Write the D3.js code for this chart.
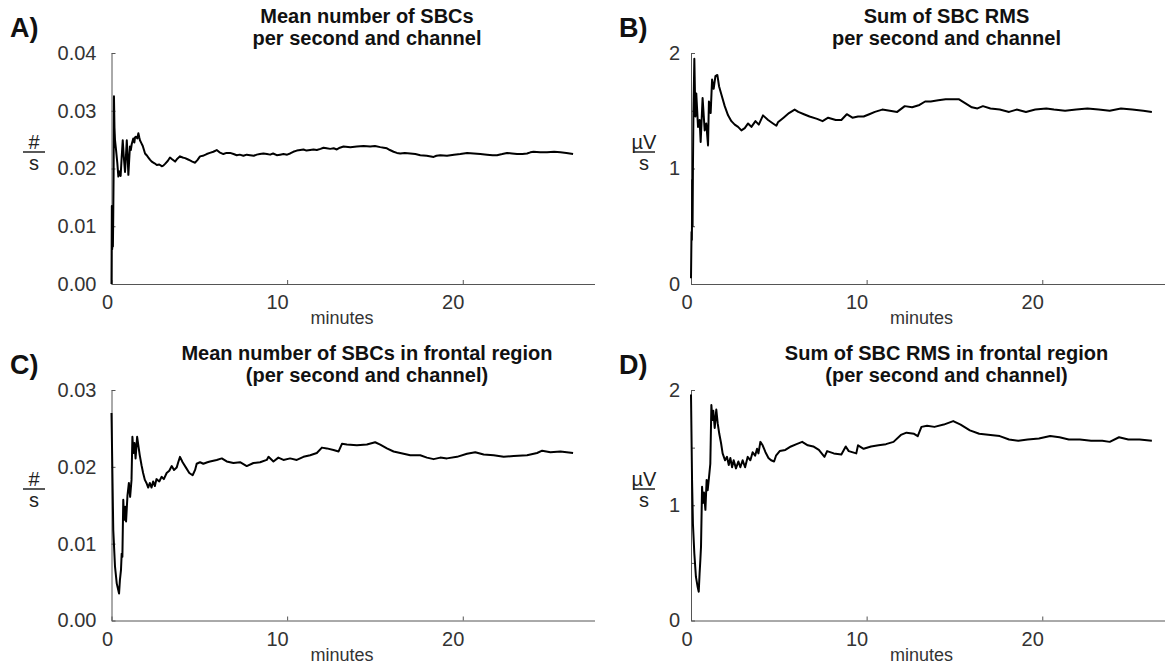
<!DOCTYPE html>
<head>
    <meta charset="utf-8">
    <title>SBC running averages</title>
    <style>
        body { margin: 0; background: #fff; }
        text { font-family: "Liberation Sans", Arial, sans-serif; }
        .tick text { font-size: 20px; fill: #333; }
        .title { font-size: 20px; font-weight: bold; fill: #111; }
        .letter { font-size: 27px; font-weight: bold; fill: #111; }
        .xlabel { font-size: 18px; fill: #333; }
        .unit { font-size: 20px; fill: #222; }
    </style>
    <script src="https://d3js.org/d3.v7.min.js"></script>
</head>
<body>
    <script>
        // [minutes, value]
        var meanAll = [[0,0],[0.02,0.0135],[0.04,0.006],[0.06,0.013],[0.08,0.0065],[0.1,0.012],[0.12,0.019],[0.14,0.0325],[0.17,0.027],[0.2,0.0249],[0.26,0.0232],[0.33,0.021],[0.39,0.0186],[0.45,0.0195],[0.52,0.0187],[0.58,0.022],[0.64,0.0249],[0.7,0.022],[0.77,0.0194],[0.82,0.022],[0.87,0.0249],[0.92,0.022],[0.96,0.0189],[1.05,0.0238],[1.1,0.0232],[1.15,0.0242],[1.24,0.0252],[1.3,0.0245],[1.34,0.0254],[1.4,0.0255],[1.47,0.0252],[1.53,0.0261],[1.58,0.0254],[1.62,0.0249],[1.7,0.0244],[1.78,0.0239],[1.85,0.0232],[1.91,0.0226],[2.0,0.0223],[2.1,0.0219],[2.2,0.0215],[2.29,0.0212],[2.45,0.0209],[2.58,0.0206],[2.72,0.0207],[2.86,0.0204],[2.95,0.0205],[3.05,0.0208],[3.2,0.0213],[3.33,0.0219],[3.45,0.0216],[3.62,0.0212],[3.75,0.0217],[3.9,0.0221],[4.05,0.0219],[4.19,0.0218],[4.33,0.0216],[4.47,0.0214],[4.6,0.0212],[4.76,0.021],[4.9,0.0215],[5.04,0.0221],[5.2,0.0222],[5.42,0.0225],[5.6,0.0227],[5.8,0.0229],[5.99,0.0232],[6.15,0.0228],[6.37,0.0225],[6.55,0.0227],[6.75,0.0227],[6.95,0.0225],[7.13,0.0223],[7.3,0.0224],[7.51,0.0222],[7.7,0.0224],[7.89,0.0223],[8.1,0.0222],[8.27,0.0224],[8.45,0.0225],[8.65,0.0226],[8.85,0.0225],[9.03,0.0224],[9.2,0.0226],[9.41,0.0223],[9.6,0.0224],[9.79,0.0225],[10.0,0.0224],[10.17,0.0226],[10.35,0.0229],[10.55,0.0231],[10.75,0.0232],[10.93,0.0233],[11.1,0.0231],[11.31,0.0232],[11.5,0.0233],[11.69,0.0232],[11.9,0.0234],[12.07,0.0236],[12.25,0.0235],[12.45,0.0234],[12.65,0.0235],[12.83,0.0233],[13.0,0.0236],[13.21,0.0238],[13.6,0.0237],[13.97,0.0238],[14.35,0.0239],[14.73,0.0238],[15.0,0.0239],[15.3,0.0237],[15.5,0.0236],[15.68,0.0235],[15.85,0.0232],[16.06,0.0229],[16.25,0.0227],[16.44,0.0226],[16.7,0.0227],[17.01,0.0226],[17.3,0.0225],[17.58,0.0223],[17.95,0.0222],[18.34,0.022],[18.5,0.0222],[18.72,0.0223],[19.1,0.0222],[19.5,0.0224],[19.86,0.0225],[20.25,0.0227],[20.62,0.0226],[21.0,0.0225],[21.38,0.0224],[21.7,0.0223],[21.95,0.0223],[22.25,0.0225],[22.52,0.0227],[22.8,0.0226],[23.09,0.0225],[23.4,0.0225],[23.66,0.0226],[23.85,0.0228],[24.03,0.0229],[24.4,0.0228],[24.8,0.0228],[25.2,0.0229],[25.56,0.0228],[25.9,0.0227],[26.28,0.0225]];

        var sumAll = [[0,0.05],[0.03,0.45],[0.05,0.38],[0.07,0.9],[0.09,0.5],[0.11,1.0],[0.14,1.5],[0.19,1.95],[0.25,1.45],[0.3,1.65],[0.4,1.36],[0.49,1.42],[0.55,1.23],[0.66,1.61],[0.78,1.33],[0.87,1.39],[0.97,1.2],[1.02,1.58],[1.12,1.48],[1.2,1.77],[1.29,1.69],[1.39,1.8],[1.5,1.81],[1.6,1.71],[1.73,1.64],[1.92,1.54],[2.11,1.46],[2.3,1.41],[2.49,1.38],[2.68,1.36],[2.87,1.33],[3.06,1.35],[3.25,1.39],[3.44,1.36],[3.67,1.41],[3.86,1.38],[4.1,1.46],[4.39,1.42],[4.67,1.39],[4.86,1.37],[4.95,1.4],[5.27,1.44],[5.58,1.48],[5.9,1.51],[6.11,1.49],[6.43,1.47],[6.75,1.45],[7.18,1.43],[7.49,1.41],[7.81,1.44],[8.24,1.42],[8.56,1.42],[8.87,1.47],[9.19,1.44],[9.51,1.45],[9.83,1.45],[10.15,1.47],[10.47,1.49],[10.89,1.51],[11.32,1.5],[11.74,1.49],[12.17,1.54],[12.59,1.53],[13.01,1.55],[13.33,1.58],[13.65,1.58],[14.08,1.59],[14.5,1.6],[14.93,1.6],[15.24,1.6],[15.56,1.57],[15.99,1.53],[16.31,1.52],[16.62,1.54],[17.05,1.52],[17.58,1.51],[18.11,1.49],[18.54,1.51],[19.07,1.49],[19.6,1.51],[20.23,1.52],[20.66,1.51],[21.3,1.5],[21.93,1.51],[22.57,1.52],[23.21,1.51],[23.84,1.5],[24.48,1.52],[25.12,1.51],[25.75,1.5],[26.24,1.49]];

        var meanFrontal = [[0,0.027],[0.1,0.0118],[0.2,0.007],[0.3,0.0048],[0.43,0.0035],[0.48,0.0053],[0.54,0.0066],[0.58,0.0087],[0.62,0.0083],[0.67,0.0157],[0.72,0.0131],[0.78,0.0148],[0.83,0.0129],[0.91,0.0163],[0.99,0.0179],[1.06,0.0161],[1.14,0.0183],[1.19,0.0239],[1.25,0.0218],[1.31,0.0231],[1.37,0.0211],[1.46,0.0239],[1.54,0.0226],[1.61,0.0215],[1.71,0.0202],[1.8,0.0192],[1.9,0.0183],[1.99,0.0179],[2.09,0.0173],[2.18,0.0179],[2.28,0.0173],[2.37,0.0181],[2.47,0.0175],[2.56,0.0184],[2.72,0.0181],[2.85,0.0187],[2.98,0.0184],[3.14,0.0192],[3.29,0.0195],[3.43,0.0201],[3.56,0.0196],[3.71,0.0199],[3.8,0.0206],[3.9,0.0213],[4.05,0.0206],[4.24,0.0199],[4.43,0.0192],[4.62,0.0189],[4.76,0.0196],[4.85,0.0204],[5.04,0.0206],[5.23,0.0204],[5.46,0.0206],[5.61,0.0207],[5.99,0.0209],[6.28,0.0211],[6.56,0.0207],[6.94,0.0205],[7.32,0.0206],[7.7,0.0201],[8.08,0.0205],[8.46,0.0206],[8.84,0.0209],[8.94,0.0213],[9.22,0.0207],[9.5,0.0212],[9.79,0.0209],[10.17,0.0211],[10.55,0.0209],[10.93,0.0213],[11.31,0.0215],[11.69,0.0218],[11.98,0.0225],[12.26,0.0224],[12.64,0.0222],[12.93,0.022],[13.12,0.023],[13.4,0.0229],[13.97,0.0228],[14.54,0.0229],[15.01,0.0232],[15.3,0.0229],[15.68,0.0224],[16.06,0.022],[16.44,0.0218],[17.01,0.0215],[17.58,0.0215],[17.96,0.0212],[18.34,0.021],[18.72,0.0212],[19.1,0.0211],[19.67,0.0213],[20.24,0.0217],[20.71,0.0219],[21.19,0.0216],[21.76,0.0215],[22.33,0.0213],[22.9,0.0214],[23.66,0.0215],[24.23,0.0218],[24.52,0.0221],[24.99,0.0219],[25.56,0.022],[26.28,0.0218]];

        var sumFrontal = [[0,1.96],[0.06,1.22],[0.11,0.84],[0.19,0.58],[0.28,0.38],[0.38,0.29],[0.44,0.25],[0.49,0.41],[0.53,0.52],[0.57,0.64],[0.63,1.16],[0.68,1.02],[0.74,1.11],[0.82,0.96],[0.89,1.22],[0.95,1.13],[1.03,1.25],[1.1,1.36],[1.16,1.87],[1.22,1.74],[1.27,1.82],[1.35,1.67],[1.44,1.83],[1.52,1.71],[1.61,1.62],[1.71,1.54],[1.8,1.45],[1.94,1.39],[2.05,1.42],[2.15,1.35],[2.24,1.41],[2.34,1.33],[2.43,1.39],[2.56,1.32],[2.7,1.38],[2.81,1.33],[2.94,1.39],[3.08,1.33],[3.23,1.42],[3.38,1.39],[3.51,1.46],[3.65,1.43],[3.76,1.49],[3.84,1.45],[3.95,1.55],[4.08,1.52],[4.24,1.46],[4.41,1.41],[4.56,1.39],[4.73,1.38],[4.84,1.43],[5.05,1.47],[5.37,1.48],[5.69,1.51],[6.01,1.53],[6.33,1.55],[6.65,1.52],[6.96,1.51],[7.28,1.48],[7.6,1.42],[7.75,1.47],[8.13,1.45],[8.56,1.44],[8.81,1.51],[8.98,1.47],[9.41,1.45],[9.51,1.52],[9.83,1.49],[10.25,1.51],[10.68,1.52],[11.1,1.53],[11.53,1.55],[11.95,1.61],[12.27,1.63],[12.7,1.62],[12.91,1.6],[13.12,1.68],[13.44,1.69],[13.86,1.68],[14.39,1.7],[14.93,1.73],[15.35,1.7],[15.88,1.65],[16.41,1.62],[17.05,1.61],[17.58,1.6],[18.11,1.57],[18.64,1.56],[19.17,1.57],[19.81,1.58],[20.45,1.6],[20.98,1.59],[21.51,1.57],[22.14,1.57],[22.78,1.56],[23.42,1.56],[23.84,1.55],[24.37,1.59],[24.9,1.57],[25.54,1.57],[26.24,1.56]];

        var xTicks = [0, 10, 20];
        var countTicksAll = [0, 0.01, 0.02, 0.03, 0.04];
        var countTicksFrontal = [0, 0.01, 0.02, 0.03];
        var rmsTicks = [0, 0.5, 1, 1.5, 2];

        var panels = [
            { letter: "A)", data: meanAll, left: 111.5, top: 53, height: 231, yMax: 0.04, ticks: countTicksAll,
              fmt: d3.format(".2f"), pad: 15, title: ["Mean number of SBCs", "per second and channel"],
              unit: "#", unitX: 34, letterX: 10 },
            { letter: "B)", data: sumAll, left: 691, top: 53, height: 231, yMax: 2, ticks: rmsTicks,
              fmt: d => (d % 1 === 0 ? d : ""), pad: 11, title: ["Sum of SBC RMS", "per second and channel"],
              unit: "\u00b5V", unitX: 644, letterX: 619 },
            { letter: "C)", data: meanFrontal, left: 111.5, top: 390, height: 230.5, yMax: 0.03, ticks: countTicksFrontal,
              fmt: d3.format(".2f"), pad: 15, title: ["Mean number of SBCs in frontal region", "(per second and channel)"],
              unit: "#", unitX: 34, letterX: 10 },
            { letter: "D)", data: sumFrontal, left: 691, top: 390, height: 230.5, yMax: 2, ticks: rmsTicks,
              fmt: d => (d % 1 === 0 ? d : ""), pad: 11, title: ["Sum of SBC RMS in frontal region", "(per second and channel)"],
              unit: "\u00b5V", unitX: 644, letterX: 619 }
        ];

        var plotWidth = 483;

        var svg = d3.select("body")
            .append("svg")
            .attr("width", 1165)
            .attr("height", 663);

        panels.forEach(function (p) {
            var x = d3.scaleLinear().domain([0, 27.5]).range([0, plotWidth]);
            var y = d3.scaleLinear().domain([0, p.yMax]).range([p.height, 0]);

            var g = svg.append("g")
                .attr("transform", "translate(" + p.left + "," + p.top + ")");

            var xAxis = g.append("g")
                .attr("transform", "translate(0," + p.height + ")")
                .call(d3.axisBottom(x).tickValues(xTicks).tickSizeInner(-4).tickSizeOuter(0).tickPadding(11));
            xAxis.selectAll(".tick text").attr("text-anchor", "end").attr("x", 1);

            var yAxis = g.append("g")
                .call(d3.axisLeft(y).tickValues(p.ticks).tickFormat(p.fmt).tickSizeInner(-4).tickSizeOuter(0).tickPadding(p.pad));

            g.selectAll(".domain").attr("stroke", "#555");
            g.selectAll(".tick line").attr("stroke", "#555");

            g.append("path")
                .datum(p.data)
                .attr("fill", "none")
                .attr("stroke", "#000")
                .attr("stroke-width", 2)
                .attr("stroke-linejoin", "round")
                .attr("d", d3.line().x(d => x(d[0])).y(d => y(d[1])));

            // titles
            g.append("text").attr("class", "title").attr("text-anchor", "middle")
                .attr("x", 255.5).attr("y", -30).text(p.title[0]);
            g.append("text").attr("class", "title").attr("text-anchor", "middle")
                .attr("x", 255.5).attr("y", -8).text(p.title[1]);

            g.append("text").attr("class", "xlabel").attr("text-anchor", "middle")
                .attr("x", 230.5).attr("y", p.height + 40).text("minutes");

            // panel letter
            svg.append("text").attr("class", "letter")
                .attr("x", p.letterX).attr("y", p.top - 16).text(p.letter);

            // unit as a fraction
            var uy = p.top + 99;
            svg.append("text").attr("class", "unit").attr("text-anchor", "middle")
                .attr("x", p.unitX).attr("y", uy - 3).text(p.unit);
            svg.append("line")
                .attr("x1", p.unitX - 11).attr("x2", p.unitX + 11)
                .attr("y1", uy).attr("y2", uy)
                .attr("stroke", "#222").attr("stroke-width", 1.5);
            svg.append("text").attr("class", "unit").attr("text-anchor", "middle")
                .attr("x", p.unitX).attr("y", uy + 18).text("s");
        });
    </script>
</body>
